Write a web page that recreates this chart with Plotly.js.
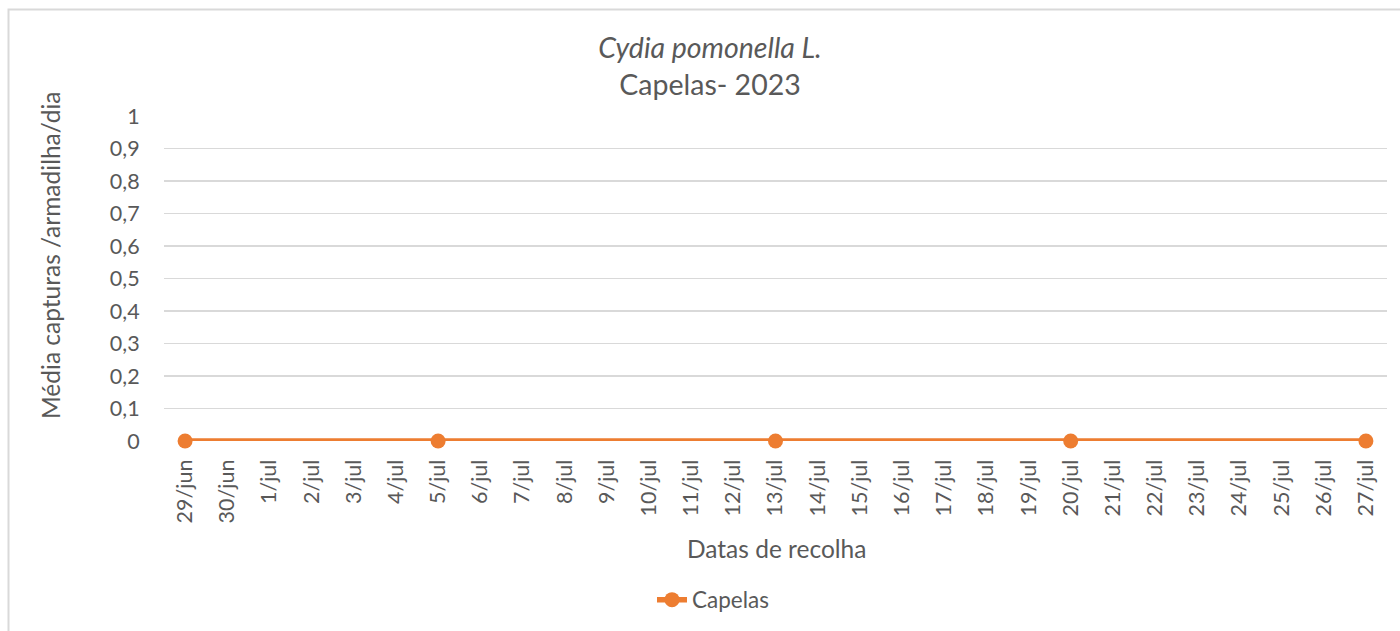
<!DOCTYPE html>
<html>
<head>
<meta charset="utf-8">
<script src="https://cdn.plot.ly/plotly-3.0.1.min.js"></script>
<style>
html,body{margin:0;padding:0;background:#fff;}
#chart{width:1400px;height:631px;}
</style>
</head>
<body>
<div id="chart"></div>
<script>
// Axis categories (every day of the period)
var dayLabels = ["29/jun","30/jun","1/jul","2/jul","3/jul","4/jul","5/jul","6/jul","7/jul","8/jul",
  "9/jul","10/jul","11/jul","12/jul","13/jul","14/jul","15/jul","16/jul","17/jul","18/jul",
  "19/jul","20/jul","21/jul","22/jul","23/jul","24/jul","25/jul","26/jul","27/jul"];
// Collection dates and mean captures per trap per day
var collectionDates = ["29/jun","5/jul","13/jul","20/jul","27/jul"];
var capelasValues = [0, 0, 0, 0, 0];
var yTickVals = [0,0.1,0.2,0.3,0.4,0.5,0.6,0.7,0.8,0.9,1];
var yTickText = ["0","0,1","0,2","0,3","0,4","0,5","0,6","0,7","0,8","0,9","1"];

var FONT = "Lato, 'Open Sans', sans-serif";
var TXT = "#595959";
var ORANGE = "#ED7D31";

var W = 1400, H = 631;
var L = 164, R = 13, T = 116, B = 190;
var pw = W - L - R, ph = H - T - B;
function px2x(px){ return (px - L) / pw; }
function py2y(py){ return (H - B - py) / ph; }

var trace = {
  type: "scatter",
  mode: "lines+markers",
  name: "Capelas",
  x: collectionDates,
  y: capelasValues,
  line: {color: ORANGE, width: 5.5},
  marker: {color: ORANGE, size: 15},
  cliponaxis: false
};

var layout = {
  width: W, height: H,
  margin: {l: L, r: R, t: T, b: B, autoexpand: false},
  paper_bgcolor: "#ffffff",
  plot_bgcolor: "#ffffff",
  font: {family: FONT, color: TXT, size: 21},
  title: {
    text: "<i>Cydia pomonella L.</i><br>Capelas- 2023",
    font: {family: FONT, size: 28.5, color: TXT},
    xref: "container", x: 710/1400, xanchor: "center",
    yref: "container", y: 1 - 58/631, yanchor: "top"
  },
  xaxis: {
    type: "category",
    categoryorder: "array",
    categoryarray: dayLabels,
    range: [-0.5, dayLabels.length - 0.5],
    tickvals: dayLabels,
    ticktext: dayLabels,
    tickangle: -90,
    ticks: "outside", ticklen: 9, tickcolor: "rgba(0,0,0,0)",
    showgrid: false, zeroline: false, showline: false,
    tickfont: {family: FONT, size: 21.5, color: TXT},
    automargin: false,
    fixedrange: true
  },
  yaxis: {
    range: [0, 1],
    tickvals: yTickVals,
    ticktext: yTickText,
    ticks: "outside", ticklen: 19, tickcolor: "rgba(0,0,0,0)",
    showgrid: true, gridcolor: "#D9D9D9", gridwidth: 1.3,
    zeroline: false, showline: false,
    tickfont: {family: FONT, size: 21.5, color: TXT},
    automargin: false,
    fixedrange: true
  },
  showlegend: true,
  legend: {
    orientation: "h",
    x: px2x(713), xanchor: "center",
    y: py2y(600), yanchor: "middle",
    font: {family: FONT, size: 22.5, color: TXT},
    bgcolor: "rgba(0,0,0,0)"
  },
  annotations: [
    {text: "Datas de recolha", xref: "paper", yref: "paper",
     x: px2x(776), y: py2y(548), xanchor: "center", yanchor: "middle",
     showarrow: false, font: {family: FONT, size: 24.5, color: TXT}},
    {text: "Média capturas /armadilha/dia", xref: "paper", yref: "paper",
     x: px2x(50), y: py2y(255), xanchor: "center", yanchor: "middle",
     textangle: -90, showarrow: false, font: {family: FONT, size: 24.5, color: TXT}}
  ],
  shapes: [
    {type: "rect", xref: "paper", yref: "paper",
     x0: px2x(8.5), x1: px2x(1450), y0: py2y(700), y1: py2y(9.5),
     line: {color: "#D9D9D9", width: 2}, fillcolor: "rgba(0,0,0,0)", layer: "below"}
  ]
};

Plotly.newPlot("chart", [trace], layout, {displayModeBar: false, staticPlot: true});
</script>
</body>
</html>
